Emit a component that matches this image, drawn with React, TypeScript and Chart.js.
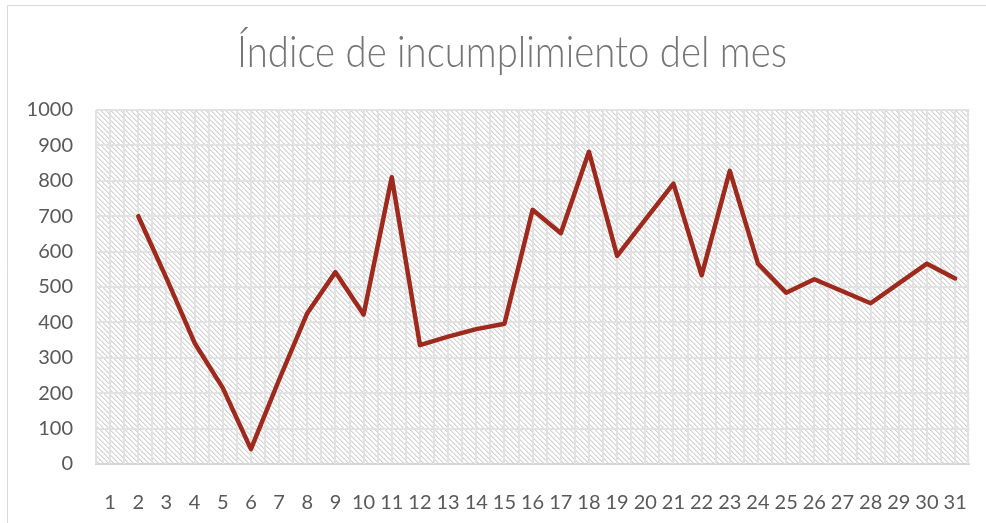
import React, { useEffect, useRef } from "react";
import { Chart, registerables } from "chart.js";

Chart.register(...registerables);

const TITLE = "Índice de incumplimiento del mes";
const days: string[] = ["1","2","3","4","5","6","7","8","9","10","11","12","13","14","15","16","17","18","19","20","21","22","23","24","25","26","27","28","29","30","31"];
const values: (number | null)[] = [null, 700, 525, 342, 215, 42, 238, 426, 542, 422, 810, 336, 360, 381, 396, 718, 652, 882, 588, 690, 792, 533, 828, 566, 484, 522, 488, 454, 510, 566, 524];
const yTicks = { min: 0, max: 1000, step: 100 };

function makePattern(ctx: CanvasRenderingContext2D): CanvasPattern | string {
  const c = document.createElement("canvas");
  c.width = 5;
  c.height = 5;
  const p = c.getContext("2d");
  if (!p) return "#eee";
  p.fillStyle = "#ffffff";
  p.fillRect(0, 0, 5, 5);
  for (let r = 0; r < 5; r++) {
    p.fillStyle = "#d4d4d4";
    p.fillRect(r, r, 1, 1);
    p.fillStyle = "#e6e6e6";
    p.fillRect((r + 1) % 5, r, 1, 1);
  }
  return ctx.createPattern(c, "repeat") || "#eee";
}

export default function App() {
  const ref = useRef<HTMLCanvasElement | null>(null);
  useEffect(() => {
    if (!ref.current) return;
    const bgPlugin = {
      id: "bgPlugin",
      beforeDraw(chart: any) {
        const { ctx, chartArea } = chart;
        ctx.save();
        ctx.fillStyle = "#ffffff";
        ctx.fillRect(0, 0, chart.width, chart.height);
        ctx.fillStyle = makePattern(ctx);
        ctx.fillRect(chartArea.left, chartArea.top, chartArea.right - chartArea.left, chartArea.bottom - chartArea.top);
        ctx.strokeStyle = "#d9d9d9";
        ctx.lineWidth = 1;
        ctx.beginPath();
        ctx.moveTo(7.5, chart.height);
        ctx.lineTo(7.5, 5.5);
        ctx.lineTo(chart.width, 5.5);
        ctx.stroke();
        ctx.fillStyle = "#757575";
        ctx.font = "300 44px Lato";
        ctx.textAlign = "center";
        ctx.textBaseline = "alphabetic";
        ctx.fillText(TITLE, 512, 67, 550);
        ctx.restore();
      },
      beforeDatasetsDraw(chart: any) {
        const { ctx, chartArea } = chart;
        const xs = chart.scales.x;
        ctx.save();
        ctx.strokeStyle = "#e2e2e2";
        ctx.lineWidth = 2;
        const n = days.length;
        const w = (chartArea.right - chartArea.left) / n;
        ctx.beginPath();
        for (let i = 0; i < n; i++) {
          const c = xs.getPixelForValue(i);
          const l = Math.round(c - w / 2);
          const m = Math.round(c);
          ctx.moveTo(l, chartArea.top);
          ctx.lineTo(l, chartArea.bottom);
          ctx.moveTo(m, chartArea.top);
          ctx.lineTo(m, chartArea.bottom);
        }
        const r = Math.round(chartArea.right) - 1;
        ctx.moveTo(r, chartArea.top);
        ctx.lineTo(r, chartArea.bottom);
        ctx.stroke();
        ctx.restore();
      },
    };
    const chart = new Chart(ref.current, {
      type: "line",
      data: {
        labels: days,
        datasets: [
          {
            data: values,
            borderColor: "#9e2a1e",
            borderWidth: 4.5,
            pointRadius: 0,
            tension: 0,
            borderJoinStyle: "round",
            borderCapStyle: "round",
            fill: false,
          },
        ],
      },
      options: {
        responsive: false,
        animation: false,
        layout: { padding: { left: 0, top: 110, right: 16, bottom: 0 } },
        plugins: {
          legend: { display: false },
          title: { display: false },
          tooltip: { enabled: false },
        },
        scales: {
          x: {
            type: "category",
            offset: true,
            grid: { display: false },
            border: { display: true, color: "#d6d6d6", width: 2 },
            ticks: {
              color: "#595959",
              font: { family: "Lato", size: 20 },
              padding: 19,
              maxRotation: 0,
              autoSkip: false,
            },
            afterFit(scale: any) {
              scale.height = 59;
            },
          },
          y: {
            min: yTicks.min,
            max: yTicks.max,
            grid: { color: "#e2e2e2", lineWidth: 2, drawTicks: false },
            border: { display: false },
            ticks: {
              stepSize: yTicks.step,
              color: "#595959",
              font: { family: "Lato", size: 20 },
              padding: 23,
              callback: (v: any) => String(v),
            },
            afterFit(scale: any) {
              scale.width = 96;
            },
          },
        },
      },
      plugins: [bgPlugin],
    } as any);
    return () => chart.destroy();
  }, []);
  return (
    <div style={{ position: "fixed", left: 0, top: 0, width: 986, height: 523, background: "#fff" }}>
      <canvas ref={ref} width={986} height={523} style={{ display: "block" }} />
    </div>
  );
}
